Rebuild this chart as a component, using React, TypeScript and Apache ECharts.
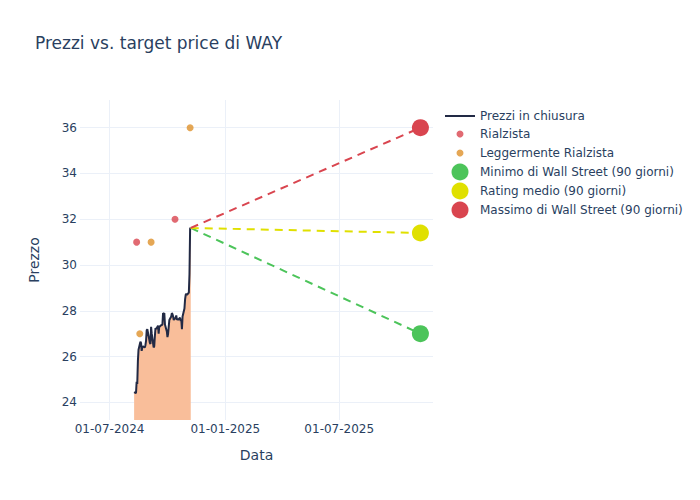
import React, { useEffect, useRef } from "react";
import * as echarts from "echarts";

const priceDates: string[] = [
  "2024-08-09","2024-08-12","2024-08-13","2024-08-14","2024-08-15","2024-08-16",
  "2024-08-19","2024-08-20","2024-08-21","2024-08-22","2024-08-23",
  "2024-08-26","2024-08-27","2024-08-28","2024-08-29","2024-08-30",
  "2024-09-03","2024-09-04","2024-09-05","2024-09-06",
  "2024-09-09","2024-09-10","2024-09-11","2024-09-12","2024-09-13",
  "2024-09-16","2024-09-17","2024-09-18","2024-09-19","2024-09-20",
  "2024-09-23","2024-09-24","2024-09-25","2024-09-26","2024-09-27",
  "2024-09-30","2024-10-01","2024-10-02","2024-10-03","2024-10-04",
  "2024-10-07","2024-10-08","2024-10-09","2024-10-10","2024-10-11",
  "2024-10-14","2024-10-15","2024-10-16","2024-10-17","2024-10-18",
  "2024-10-21","2024-10-22","2024-10-23","2024-10-24","2024-10-25",
  "2024-10-28","2024-10-29","2024-10-30","2024-10-31","2024-11-01",
  "2024-11-04","2024-11-05","2024-11-06","2024-11-07",
];
const priceValues: number[] = [
  24.45, 24.4, 24.9, 24.8, 25.8, 26.3,
  26.65, 26.6, 26.25, 26.4, 26.45,
  26.4, 26.5, 26.7, 27.15, 27.2,
  26.6, 26.55, 27.3, 27.0,
  26.4, 26.45, 26.9, 27.25, 27.2,
  27.35, 27.0, 27.35, 27.3, 27.35,
  27.4, 27.9, 27.85, 27.9, 27.4,
  27.1, 26.85, 27.0, 27.3, 27.6,
  27.75, 27.9, 27.85, 27.75, 27.6,
  27.7, 27.8, 27.6, 27.65, 27.6,
  27.7, 27.55, 27.6, 27.2, 27.75,
  28.1, 28.5, 28.7, 28.75, 28.7,
  28.8, 29.6, 31.6, 31.62,
];

const bullishDates: string[] = ["2024-08-13", "2024-10-13"];
const bullishValues: number[] = [31, 32];
const slightlyBullishDates: string[] = ["2024-08-18", "2024-09-05", "2024-11-06"];
const slightlyBullishValues: number[] = [27, 31, 36];

const targetDate = "2025-11-07";
const targetLow = 27;
const targetAvg = 31.4;
const targetHigh = 36;

const xTickDates: string[] = ["2024-07-01", "2025-01-01", "2025-07-01"];
const yTicks: number[] = [24, 26, 28, 30, 32, 34, 36];

const ts = (d: string) => {
  const [y, m, dd] = d.split("-").map(Number);
  return Date.UTC(y, m - 1, dd);
};
const pad = (n: number) => (n < 10 ? "0" + n : "" + n);
const fmt = (v: number) => {
  const d = new Date(v);
  return `${pad(d.getUTCDate())}-${pad(d.getUTCMonth() + 1)}-${d.getUTCFullYear()}`;
};

const TEXT = "#2a3f5f";
const FONT = "DejaVu Sans";
const RED = "#d9454f";
const ORANGE = "#de912b";
const GREEN = "#4cc45a";
const YELLOW = "#e0e000";
const LINE = "#222a45";

export default function App() {
  const ref = useRef<HTMLDivElement>(null);
  useEffect(() => {
    if (!ref.current) return;
    const chart = echarts.init(ref.current, undefined, { renderer: "svg" });
    const price = priceDates.map((d, i) => [ts(d), priceValues[i]]);
    const last = price[price.length - 1];
    const tEnd = ts(targetDate);
    const targetSeries = (name: string, val: number, color: string) => ({
      name,
      type: "line",
      data: [
        { value: last, symbol: "none" },
        { value: [tEnd, val], symbol: "circle", symbolSize: 17 },
      ],
      lineStyle: { color, width: 2, type: [8, 6] },
      itemStyle: { color },
      z: 4,
    });
    const legendText = { color: TEXT, fontSize: 12, fontFamily: FONT };
    chart.setOption({
      animation: false,
      backgroundColor: "#ffffff",
      textStyle: { fontFamily: FONT },
      title: {
        text: "Prezzi vs. target price di WAY",
        left: 35,
        top: 34,
        padding: 0,
        textStyle: { color: TEXT, fontSize: 17, fontWeight: "normal", fontFamily: FONT },
      },
      grid: { left: 80, right: 267, top: 100, bottom: 80 },
      legend: [
        {
          data: [{ name: "Prezzi in chiusura", icon: "rect", itemStyle: { color: LINE } }],
          left: 445, top: 110, padding: 0, orient: "vertical",
          itemWidth: 30, itemHeight: 2, itemGap: 5,
          textStyle: legendText,
        },
        {
          data: [
            { name: "Rialzista", icon: "circle" },
            { name: "Leggermente Rialzista", icon: "circle" },
          ],
          left: 456.5, top: 128, padding: 0, orient: "vertical",
          itemWidth: 30, itemHeight: 7, itemGap: 7,
          textStyle: legendText,
        },
        {
          data: [
            { name: "Minimo di Wall Street (90 giorni)", icon: "circle" },
            { name: "Rating medio (90 giorni)", icon: "circle" },
            { name: "Massimo di Wall Street (90 giorni)", icon: "circle" },
          ],
          left: 451.5, top: 163.5, padding: 0, orient: "vertical",
          itemWidth: 30, itemHeight: 17, itemGap: 2,
          textStyle: legendText,
        },
      ],
      xAxis: {
        type: "value",
        min: ts("2024-05-15"),
        max: ts("2025-11-27"),
        name: "Data",
        nameLocation: "middle",
        nameGap: 28,
        nameTextStyle: { color: TEXT, fontSize: 14, fontFamily: FONT },
        axisLine: { show: false },
        axisTick: { show: false, customValues: xTickDates.map(ts) },
        axisLabel: {
          customValues: xTickDates.map(ts),
          formatter: (v: number) => fmt(v),
          color: TEXT, fontSize: 12, fontFamily: FONT, margin: 3,
        },
        splitLine: { show: true, lineStyle: { color: "#ebf0f8", width: 1 } },
      },
      yAxis: {
        type: "value",
        min: 23.23,
        max: 37.21,
        name: "Prezzo",
        nameLocation: "middle",
        nameGap: 39,
        nameTextStyle: { color: TEXT, fontSize: 14, fontFamily: FONT },
        axisLine: { show: false },
        axisTick: { show: false, customValues: yTicks },
        axisLabel: {
          customValues: yTicks,
          color: TEXT, fontSize: 12, fontFamily: FONT, margin: 3,
        },
        splitLine: { show: true, lineStyle: { color: "#ebf0f8", width: 1 } },
      },
      series: [
        {
          name: "Prezzi in chiusura",
          type: "line",
          data: price,
          symbol: "none",
          lineStyle: { color: LINE, width: 2 },
          itemStyle: { color: LINE },
          areaStyle: { color: "#f9be9a", opacity: 1, origin: "start" },
          z: 2,
        },
        {
          name: "Rialzista",
          type: "scatter",
          data: bullishDates.map((d, i) => [ts(d), bullishValues[i]]),
          symbolSize: 7,
          itemStyle: { color: RED },
          z: 3,
        },
        {
          name: "Leggermente Rialzista",
          type: "scatter",
          data: slightlyBullishDates.map((d, i) => [ts(d), slightlyBullishValues[i]]),
          symbolSize: 7,
          itemStyle: { color: ORANGE },
          z: 3,
        },
        targetSeries("Minimo di Wall Street (90 giorni)", targetLow, GREEN),
        targetSeries("Rating medio (90 giorni)", targetAvg, YELLOW),
        targetSeries("Massimo di Wall Street (90 giorni)", targetHigh, RED),
      ],
    });
    return () => chart.dispose();
  }, []);
  return <div ref={ref} style={{ width: 700, height: 500, marginLeft: -8, marginTop: -8 }} />;
}
